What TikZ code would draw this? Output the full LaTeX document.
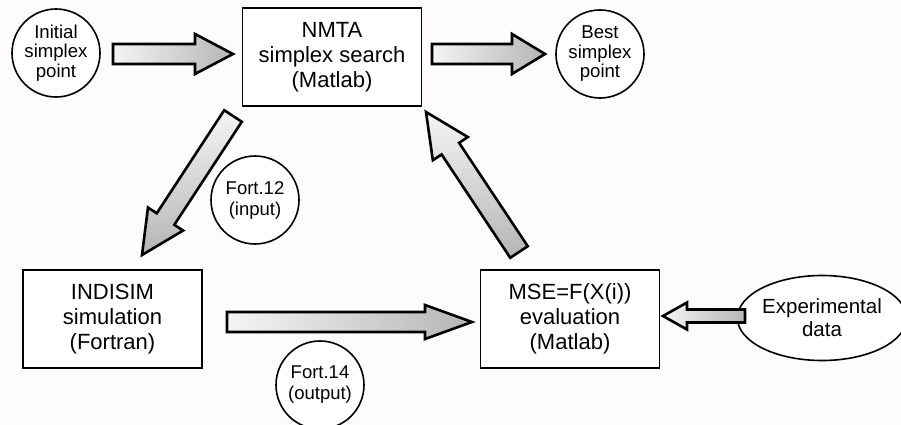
\documentclass[tikz,border=0pt]{standalone}
\usepackage{fontspec}
\setmainfont{Liberation Sans}
\usetikzlibrary{calc,shapes.geometric}
\definecolor{bgcol}{RGB}{253,252,250}
\tikzset{
  boxnode/.style={draw, line width=1.8pt, fill=white, minimum width=179pt, minimum height=98pt, align=center, inner sep=2pt, font=\fontsize{22}{25}\selectfont},
  circnode/.style={draw, circle, line width=1.6pt, fill=white, minimum size=88pt, inner sep=0pt, align=center, font=\fontsize{18.6}{19.5}\selectfont},
  fortnode/.style={circnode, font=\fontsize{18.5}{21}\selectfont},
  ellnode/.style={draw, ellipse, line width=1.6pt, fill=white, minimum width=142pt, minimum height=85pt, inner sep=0pt, align=center, font=\fontsize{20.5}{23}\selectfont},
  arrowline/.style={draw=black, line width=2.6pt, line join=miter},
  hshade/.style={left color=gray!8, right color=gray!58},
  vshade/.style={top color=gray!8, bottom color=gray!58}
}
\newcommand\fatarrow[6]{%
  \coordinate (hb) at ($(#2)!#5!(#1)$);
  \shadedraw[arrowline,#6] ($(#1)!#3!90:(#2)$) -- ($(hb)!#3!-90:(#1)$) -- ($(hb)!#4!-90:(#1)$) -- (#2) -- ($(hb)!#4!90:(#1)$) -- ($(hb)!#3!90:(#1)$) -- ($(#1)!#3!-90:(#2)$) -- cycle;}
\begin{document}
\begin{tikzpicture}[x=1pt,y=-1pt]
\useasboundingbox (0,0) rectangle (901,425);
\fill[bgcol] (0,0) rectangle (901,425);
\begin{scope}
\clip (0,0) rectangle (901,425);
% nodes
\node[circnode] (init) at (56,53) {Initial\\simplex\\point};
\node[boxnode] (nmta) at (332,57) {NMTA\\simplex search\\(Matlab)};
\node[circnode] (best) at (600,54) {Best\\simplex\\point};
\node[fortnode] (fort12) at (255,200) {Fort.12\\(input)};
\node[boxnode] (indisim) at (112.5,319) {INDISIM\\simulation\\(Fortran)};
\node[boxnode] (mse) at (570,319) {MSE=F(X(i))\\evaluation\\(Matlab)};
\node[fortnode] (fort14) at (320,385) {Fort.14\\(output)};
\node[ellnode] (exp) at (822,318) {Experimental\\data};
% connector end points
\coordinate (a1t) at (113,54);  \coordinate (a1h) at (233,54);
\coordinate (a2t) at (432,54);  \coordinate (a2h) at (545,54);
\coordinate (a3t) at (233,116); \coordinate (a3h) at (142,255);
\coordinate (a4t) at (227,322); \coordinate (a4h) at (472,322);
\coordinate (a5t) at (519,252); \coordinate (a5h) at (426,112);
\coordinate (a6t) at (745,316); \coordinate (a6h) at (663,316);
% connectors
\fatarrow{a1t}{a1h}{10pt}{20pt}{38pt}{hshade}
\fatarrow{a2t}{a2h}{10pt}{20pt}{33pt}{hshade}
\fatarrow{a3t}{a3h}{10.5pt}{21pt}{43pt}{vshade}
\fatarrow{a4t}{a4h}{10pt}{17pt}{47pt}{hshade}
\fatarrow{a5t}{a5h}{10.5pt}{21pt}{44pt}{vshade}
\fatarrow{a6t}{a6h}{6.5pt}{13.5pt}{24pt}{hshade}
\end{scope}
\end{tikzpicture}
\end{document}
